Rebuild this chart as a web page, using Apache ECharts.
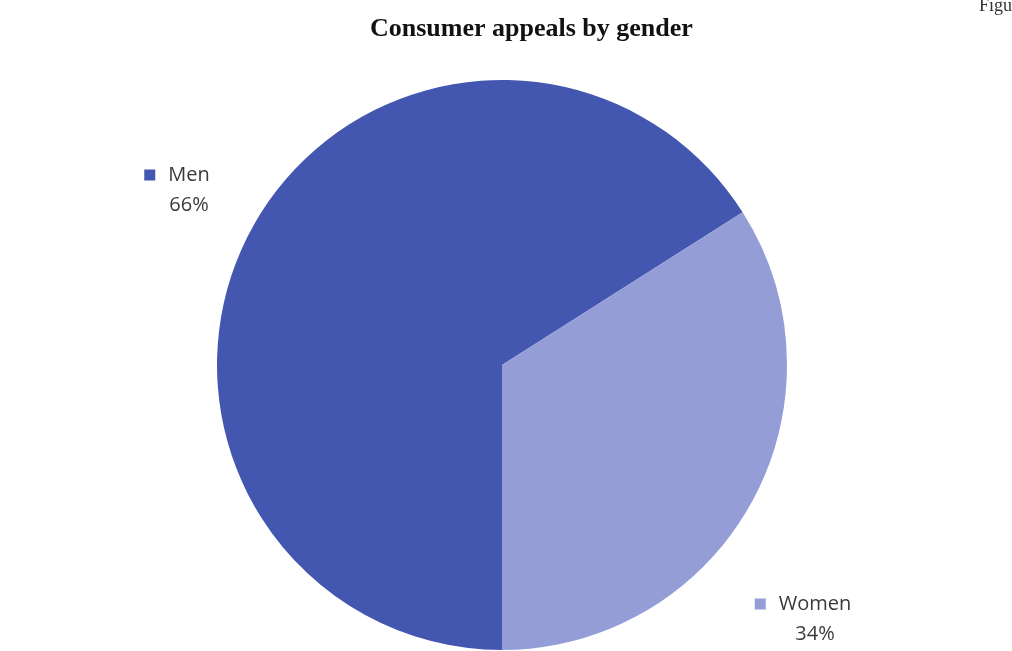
<!DOCTYPE html>
<html>
<head>
<meta charset="utf-8">
<script src="https://cdn.jsdelivr.net/npm/echarts@6/dist/echarts.min.js"></script>
<style>
  html, body { margin: 0; padding: 0; background: #fff; }
  #chart { width: 1012px; height: 651px; }
</style>
</head>
<body>
<div id="chart"></div>
<script>
// chart data
const categories = ['Men', 'Women'];
const shares = [66, 34];
const colors = ['#4357b0', '#959dd6'];

// label anchors (center x, top y)
const labelSpots = [[177, 160], [803, 589]];

let pieData = [];
for (let i = 0; i < categories.length; i++) {
    pieData.push({
        name: categories[i],
        value: shares[i],
        itemStyle: { color: colors[i] },
        label: { rich: { sq: { backgroundColor: colors[i] } } }
    });
}

const labelText = { fontFamily: 'Open Sans', fontSize: 20, color: '#3a3a3a', lineHeight: 30 };

const chart = echarts.init(document.getElementById('chart'));
chart.setOption({
    animation: false,
    title: [
        {
            text: 'Consumer appeals by gender',
            left: 365,
            top: 11,
            textStyle: { fontFamily: 'Liberation Serif', fontWeight: 'bold', fontSize: 26, color: '#111' }
        },
        {
            text: 'Figure',
            left: 974,
            top: -8,
            textStyle: { fontFamily: 'Liberation Serif', fontWeight: 'normal', fontSize: 18, color: '#333' }
        }
    ],
    series: [{
        type: 'pie',
        center: [502, 365],
        radius: 285,
        startAngle: 32.4,
        clockwise: false,
        data: pieData,
        labelLine: { show: false },
        emphasis: { disabled: true },
        label: {
            show: true,
            position: 'outside',
            formatter: '{sq|}{gap|}{n|{b}}\n{sp|}{p|{d}%}',
            fontFamily: 'Open Sans',
            fontSize: 20,
            color: '#3a3a3a',
            lineHeight: 30,
            align: 'center',
            rich: {
                sq: { width: 11, height: 11 },
                gap: { width: 13 },
                sp: { width: 24 },
                n: labelText,
                p: labelText
            }
        },
        labelLayout: function (params) {
            const spot = labelSpots[params.dataIndex];
            return { x: spot[0], y: spot[1], align: 'center', verticalAlign: 'top' };
        }
    }]
});
</script>
</body>
</html>
